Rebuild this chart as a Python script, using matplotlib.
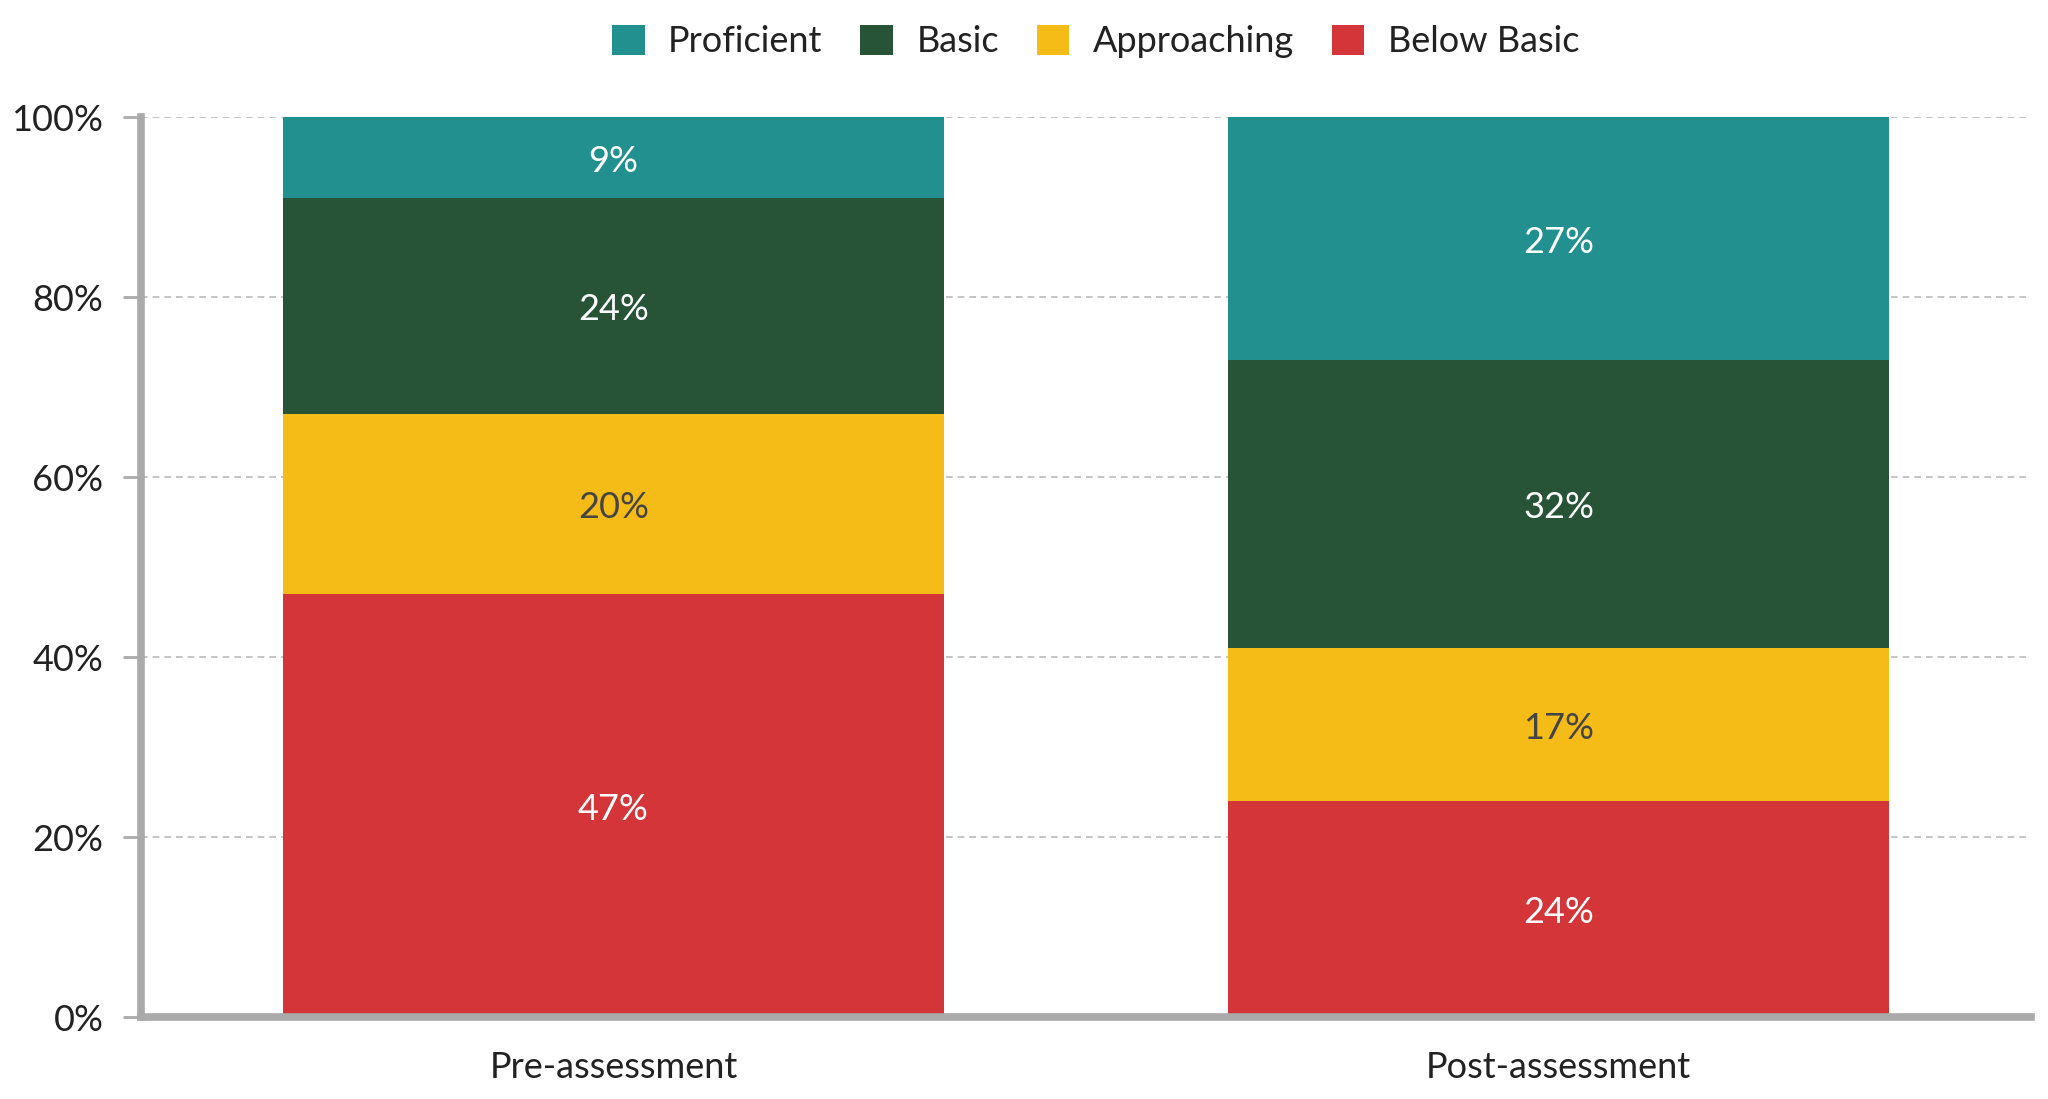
import matplotlib.pyplot as plt
from matplotlib.patches import Patch
from matplotlib.ticker import PercentFormatter

plt.rcParams['font.family'] = ['Lato', 'DejaVu Sans']

categories = ['Pre-assessment', 'Post-assessment']
levels = ['Below Basic', 'Approaching', 'Basic', 'Proficient']
values = {
    'Below Basic': [47, 24],
    'Approaching': [20, 17],
    'Basic': [24, 32],
    'Proficient': [9, 27],
}
colors = {
    'Below Basic': '#d33538',
    'Approaching': '#f5bb17',
    'Basic': '#275336',
    'Proficient': '#21908f',
}
label_colors = {
    'Below Basic': 'white',
    'Approaching': '#444444',
    'Basic': 'white',
    'Proficient': 'white',
}
yticks = [0, 20, 40, 60, 80, 100]

fig = plt.figure(figsize=(20.48, 10.99), dpi=100)
ax = fig.add_axes([0.0688, 0.0742, 0.9229, 0.8189])

x = list(range(len(categories)))
bottom = [0] * len(categories)
for level in levels:
    vals = values[level]
    bars = ax.bar(x, vals, width=0.7, bottom=bottom, color=colors[level],
                  zorder=2, linewidth=0)
    for rect, v in zip(bars, vals):
        ax.text(rect.get_x() + rect.get_width() / 2,
                rect.get_y() + rect.get_height() / 2 - 0.35,
                f'{v}%', ha='center', va='center', fontsize=26,
                color=label_colors[level], zorder=3)
    bottom = [b + v for b, v in zip(bottom, vals)]

ax.set_xlim(-0.5, 1.5)
ax.set_ylim(0, 100)
ax.set_xticks(x)
ax.set_xticklabels(categories, fontsize=26, color='#222222')
ax.tick_params(axis='x', length=0, pad=24)
ax.set_yticks(yticks)
ax.yaxis.set_major_formatter(PercentFormatter(decimals=0))
ax.tick_params(axis='y', labelsize=26, labelcolor='#222222', color='#aaaaaa',
               length=13, width=2, pad=14)

ax.grid(axis='y', color='#bbbbbb', linestyle=(0, (4, 3)), linewidth=1.2, zorder=0)
ax.set_axisbelow(True)

for side in ['top', 'right']:
    ax.spines[side].set_visible(False)
for side in ['left', 'bottom']:
    ax.spines[side].set_color('#aaaaaa')
    ax.spines[side].set_linewidth(5.5)
    ax.spines[side].set_zorder(4)

handles = [Patch(facecolor=colors[l], label=l) for l in reversed(levels)]
fig.legend(handles=handles, loc='center', bbox_to_anchor=(0.535, 0.962), ncol=4,
           frameon=False, fontsize=26, handlelength=0.9, handleheight=0.9,
           handletextpad=0.65, columnspacing=1.05, labelcolor='#222222')

fig.savefig('out.png', dpi=100)
